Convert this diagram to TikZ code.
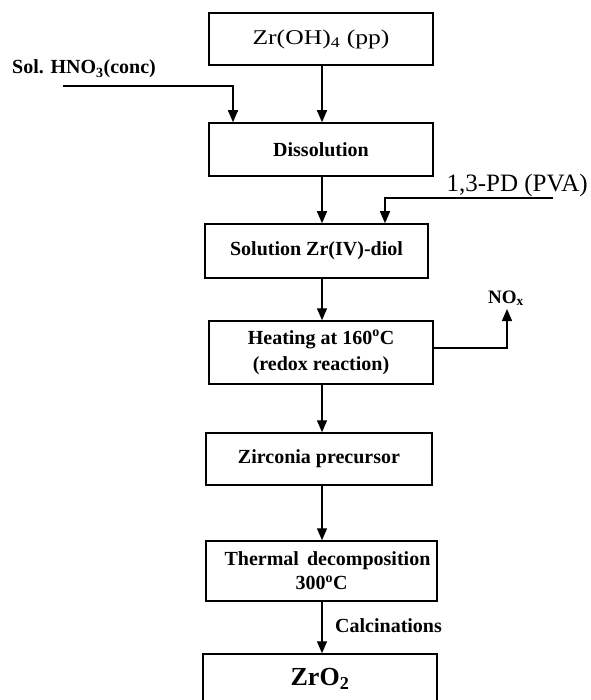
\documentclass[tikz,border=0pt]{standalone}
\usepackage{fontspec}
\usepackage{graphicx}
\setmainfont{Liberation Serif}
\usetikzlibrary{arrows.meta}
\begin{document}
\begin{tikzpicture}[x=1pt,y=-1pt,
  box/.style={draw, line width=1.5pt, inner sep=0pt, align=center,
    font=\fontsize{20}{26}\selectfont\bfseries},
  arr/.style={line width=1.4pt, -{Triangle[length=12pt,width=10pt]}},
  lbl/.style={inner sep=0pt, font=\fontsize{20}{24}\selectfont\bfseries}]
\useasboundingbox (0,0) rectangle (590,700);
% boxes
\node[box, minimum width=224pt, minimum height=52pt, font=\fontsize{21}{26}\selectfont] (b1) at (321,39)
  {\scalebox{1.22}[1]{Zr(OH)\textsubscript{4} (pp)}};
\node[box, minimum width=224pt, minimum height=53pt] (b2) at (321,149.5) {Dissolution};
\node[box, minimum width=223pt, minimum height=54pt] (b3) at (316.5,251) {Solution Zr(IV)-diol};
\node[box, minimum width=224pt, minimum height=63pt] (b4) at (321,352.5)
  {Heating at 160\textsuperscript{o}C\\(redox reaction)};
\node[box, minimum width=226pt, minimum height=52pt] (b5) at (319,459) {Zirconia precursor};
\node[box, minimum width=231pt, minimum height=60pt, font=\fontsize{20}{24}\selectfont\bfseries] (b6) at (321.5,571)
  {\hspace*{12pt}Thermal\hspace{8pt}decomposition\\300\textsuperscript{o}C};
\node[box, minimum width=234pt, minimum height=50pt, font=\fontsize{26}{30}\selectfont\bfseries] (b7) at (320,679)
  {ZrO\textsubscript{2}};
% labels
\node[lbl, anchor=base west] (hno) at (12,74) {Sol. HNO\textsubscript{3}(conc)};
\node[inner sep=0pt, anchor=base east, font=\fontsize{25}{30}\selectfont] (pva) at (588,192) {1,3-PD (PVA)};
\node[lbl, anchor=base, font=\fontsize{19}{24}\selectfont\bfseries] (nox) at (506,303) {NO\textsubscript{x}};
\node[lbl, anchor=base west] (cal) at (335,632) {Calcinations};
% connectors
\coordinate (mx) at (322,0);
\foreach \a/\b in {b1/b2,b2/b3,b3/b4,b4/b5,b5/b6,b6/b7}
  \draw[arr] (\a.south -| mx) -- (\b.north -| mx);
\coordinate (h0) at (63,86);
\coordinate (hx) at (233,0);
\draw[arr] (h0) -| (b2.north -| hx);
\coordinate (p0) at (553,198);
\coordinate (px) at (385,0);
\draw[arr] (p0) -| (b3.north -| px);
\coordinate (ny) at (0,348);
\coordinate (nx) at (507,309);
\draw[arr] (b4.east |- ny) -| (nx);
\end{tikzpicture}
\end{document}
